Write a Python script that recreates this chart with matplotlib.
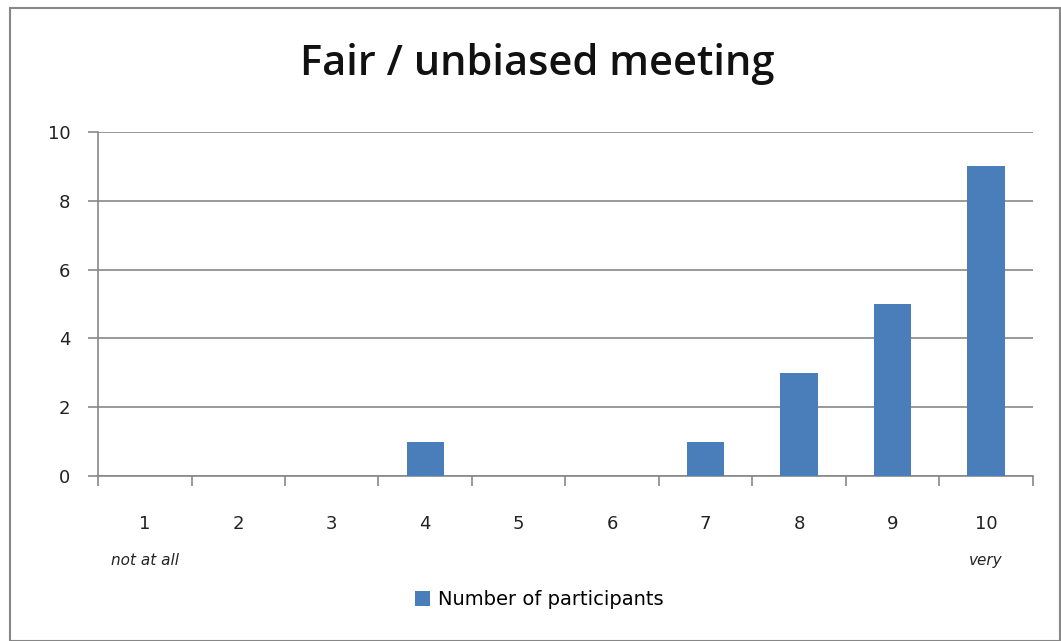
import matplotlib
matplotlib.use("Agg")
import matplotlib.pyplot as plt
import numpy as np
from matplotlib.patches import Rectangle

# data
categories = ["1", "2", "3", "4", "5", "6", "7", "8", "9", "10"]
participants = [0, 0, 0, 1, 0, 0, 1, 3, 5, 9]
end_labels = ["not at all", "very"]

plt.rcParams['font.family'] = ['DejaVu Sans']

fig = plt.figure(figsize=(10.61, 6.41), dpi=100)
ax = fig.add_axes([0.0924, 0.2574, 0.881, 0.5366])

x = np.arange(len(categories))
bars = ax.bar(x, participants, width=0.4, color="#4a7ebb", zorder=3,
              label="Number of participants")

ax.set_xlim(-0.5, len(categories) - 0.5)
ax.set_ylim(0, 10)
ax.set_yticks(range(0, 11, 2))
ax.yaxis.grid(True, color="#878787", linewidth=1.2, zorder=0)

# category labels without tick marks, separators as minor ticks
ax.set_xticks(x)
ax.set_xticklabels(categories, fontsize=13, color="#222222")
ax.tick_params(axis="x", which="major", length=0, pad=28)
ax.set_xticks(np.arange(-0.5, len(categories)), minor=True)
ax.tick_params(axis="x", which="minor", length=7, width=1.2, color="#878787")
ax.tick_params(axis="y", length=7, width=1.2, color="#878787",
               labelsize=13, labelcolor="#222222", pad=13)

for s in ["top", "right"]:
    ax.spines[s].set_visible(False)
for s in ["left", "bottom"]:
    ax.spines[s].set_color("#878787")
    ax.spines[s].set_linewidth(1.2)

# end descriptions under first and last category
ax.text(x[0], -2.45, end_labels[0], ha="center", va="center",
        fontsize=11, style="italic", color="#222222")
ax.text(x[-1], -2.45, end_labels[1], ha="center", va="center",
        fontsize=11, style="italic", color="#222222")

fig.text(0.506, 0.9, "Fair / unbiased meeting", ha="center", va="center",
         fontsize=30, fontweight="semibold", family="Open Sans", color="#111111")

fig.legend(handles=[bars], loc="center", bbox_to_anchor=(0.508, 0.065),
           frameon=False, fontsize=14, handlelength=0.8, handleheight=0.8,
           handletextpad=0.4)

# chart border
fig.patches.append(Rectangle((0.009, 0.0), 0.99, 0.988, transform=fig.transFigure,
                             fill=False, edgecolor="#878787", linewidth=1.5))

fig.savefig("out.png", dpi=100)
